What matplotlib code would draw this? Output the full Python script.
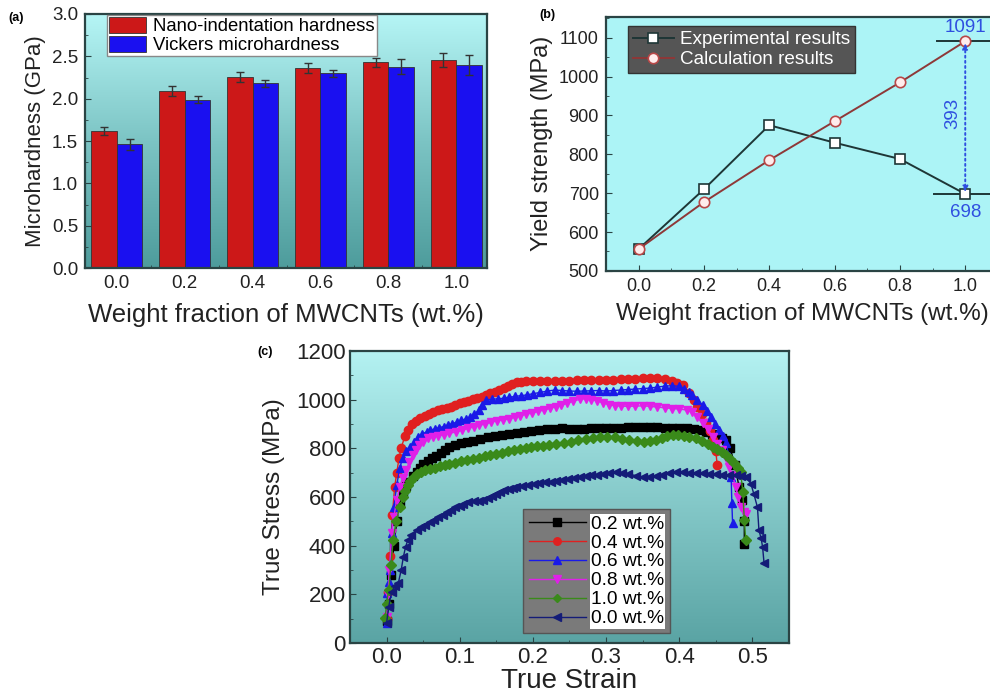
import matplotlib
matplotlib.use("Agg")
import matplotlib.pyplot as plt
import numpy as np
from matplotlib.colors import LinearSegmentedColormap
from matplotlib.ticker import MultipleLocator, FormatStrFormatter

plt.rcParams['font.family'] = ['Liberation Sans', 'DejaVu Sans']

# ---- (a) hardness ----
wt = [0.0, 0.2, 0.4, 0.6, 0.8, 1.0]
nano = [1.62, 2.09, 2.26, 2.36, 2.43, 2.46]
nano_err = [0.05, 0.06, 0.06, 0.06, 0.05, 0.08]
vick = [1.46, 1.99, 2.18, 2.30, 2.38, 2.40]
vick_err = [0.06, 0.04, 0.04, 0.04, 0.09, 0.12]

# ---- (b) yield strength ----
exp_ys = [556, 710, 875, 830, 788, 698]
calc_ys = [556, 677, 785, 885, 985, 1091]

# ---- (c) true stress-strain ----
s02 = [0.0, 0.003, 0.006, 0.010, 0.014, 0.018, 0.022, 0.026, 0.030, 0.036, 0.041, 0.046, 0.050, 0.056,
       0.062, 0.068, 0.074, 0.080, 0.086, 0.094, 0.102, 0.110, 0.118, 0.128, 0.138, 0.148, 0.158, 0.168,
       0.178, 0.188, 0.198, 0.209, 0.22, 0.23, 0.24, 0.25, 0.26, 0.27, 0.28, 0.29, 0.30, 0.31, 0.32,
       0.33, 0.34, 0.35, 0.36, 0.37, 0.38, 0.39, 0.40, 0.41, 0.42, 0.43, 0.437, 0.445, 0.452, 0.458,
       0.464, 0.470, 0.476, 0.482, 0.486, 0.489, 0.489]
t02 = [90, 160, 280, 400, 500, 570, 620, 645, 661, 685, 702, 718, 737, 750, 760, 770, 782, 795, 806,
       815, 822, 828, 832, 838, 845, 850, 855, 859, 863, 868, 872, 877, 880, 881, 882, 881, 880, 881,
       882, 883, 884, 885, 886, 887, 888, 888, 888, 887, 886, 885, 884, 882, 879, 874, 866, 860, 848,
       842, 834, 800, 730, 640, 586, 500, 408]

s04 = [0.0, 0.002, 0.005, 0.008, 0.011, 0.014, 0.017, 0.020, 0.025, 0.030, 0.035, 0.040, 0.046, 0.052,
       0.058, 0.064, 0.070, 0.076, 0.082, 0.088, 0.094, 0.100, 0.106, 0.112, 0.118, 0.124, 0.130, 0.136,
       0.142, 0.148, 0.154, 0.160, 0.166, 0.172, 0.178, 0.184, 0.19, 0.20, 0.21, 0.22, 0.23, 0.24, 0.25,
       0.26, 0.27, 0.28, 0.29, 0.30, 0.31, 0.32, 0.33, 0.34, 0.35, 0.36, 0.37, 0.38, 0.39, 0.397, 0.405,
       0.414, 0.420, 0.425, 0.431, 0.437, 0.442, 0.446, 0.450, 0.452]
t04 = [100, 210, 356, 525, 640, 700, 760, 802, 850, 876, 900, 914, 925, 935, 942, 950, 957, 962, 967,
       972, 978, 985, 990, 995, 1002, 1007, 1013, 1020, 1026, 1033, 1041, 1050, 1058, 1065, 1071,
       1075, 1077, 1078, 1079, 1079, 1078, 1078, 1079, 1080, 1080, 1081, 1081, 1082, 1083, 1084, 1085,
       1087, 1089, 1091, 1089, 1085, 1078, 1070, 1060, 1026, 1000, 971, 940, 903, 870, 834, 790, 731]

s06 = [0.0, 0.001, 0.003, 0.0045, 0.007, 0.010, 0.014, 0.018, 0.022, 0.027, 0.032, 0.037, 0.043, 0.049,
       0.055, 0.060, 0.066, 0.072, 0.078, 0.084, 0.090, 0.096, 0.102, 0.108, 0.114, 0.120, 0.126, 0.131,
       0.136, 0.144, 0.152, 0.160, 0.168, 0.176, 0.184, 0.192, 0.20, 0.21, 0.22, 0.23, 0.24, 0.25, 0.26,
       0.27, 0.28, 0.29, 0.30, 0.31, 0.32, 0.33, 0.34, 0.35, 0.36, 0.37, 0.38, 0.39, 0.40, 0.407, 0.413,
       0.418, 0.425, 0.432, 0.438, 0.443, 0.449, 0.455, 0.460, 0.464, 0.468, 0.471, 0.472, 0.473]
t06 = [82, 205, 250, 300, 451, 560, 650, 719, 760, 790, 807, 825, 848, 860, 868, 875, 880, 885, 890,
       896, 902, 908, 915, 921, 928, 940, 958, 980, 999, 1002, 1004, 1006, 1010, 1014, 1017, 1020,
       1025, 1030, 1036, 1040, 1038, 1036, 1035, 1036, 1037, 1038, 1036, 1038, 1040, 1042, 1044, 1046,
       1048, 1052, 1056, 1058, 1055, 1045, 1030, 1019, 1000, 978, 955, 930, 902, 875, 850, 821, 770,
       683, 574, 492]

s08 = [0.0, 0.002, 0.004, 0.007, 0.010, 0.014, 0.018, 0.022, 0.027, 0.031, 0.036, 0.040, 0.045, 0.050,
       0.057, 0.064, 0.071, 0.078, 0.086, 0.095, 0.103, 0.111, 0.119, 0.127, 0.135, 0.143, 0.151, 0.159,
       0.167, 0.175, 0.183, 0.191, 0.199, 0.207, 0.215, 0.223, 0.231, 0.239, 0.247, 0.255, 0.264, 0.272,
       0.280, 0.288, 0.296, 0.304, 0.312, 0.320, 0.330, 0.340, 0.350, 0.360, 0.370, 0.380, 0.390, 0.400,
       0.410, 0.418, 0.425, 0.432, 0.439, 0.446, 0.452, 0.459, 0.464, 0.468, 0.473, 0.477, 0.481, 0.484,
       0.488, 0.491]
t08 = [108, 200, 300, 451, 520, 588, 640, 680, 711, 745, 773, 795, 814, 828, 841, 848, 852, 857, 862,
       868, 875, 882, 889, 895, 901, 908, 914, 918, 922, 928, 935, 941, 946, 952, 958, 965, 971, 978,
       986, 994, 1002, 1004, 1001, 995, 988, 980, 976, 974, 973, 974, 975, 973, 970, 967, 964, 962, 958,
       948, 930, 903, 878, 848, 820, 793, 760, 725, 690, 642, 600, 560, 540, 531]

s10 = [-0.002, 0.0, 0.003, 0.006, 0.009, 0.013, 0.018, 0.022, 0.025, 0.029, 0.032, 0.037, 0.041, 0.047,
       0.053, 0.059, 0.066, 0.073, 0.080, 0.086, 0.094, 0.102, 0.110, 0.118, 0.126, 0.134, 0.142, 0.150,
       0.158, 0.166, 0.174, 0.182, 0.190, 0.198, 0.206, 0.214, 0.222, 0.232, 0.242, 0.252, 0.262, 0.272,
       0.282, 0.292, 0.302, 0.312, 0.322, 0.332, 0.342, 0.352, 0.360, 0.368, 0.376, 0.384, 0.392, 0.399,
       0.406, 0.414, 0.423, 0.431, 0.439, 0.446, 0.452, 0.458, 0.464, 0.470, 0.475, 0.480, 0.484, 0.487,
       0.489, 0.491]
t10 = [101, 160, 220, 320, 423, 500, 558, 600, 627, 650, 668, 683, 695, 704, 710, 715, 720, 726, 731,
       736, 742, 748, 753, 757, 762, 767, 772, 777, 782, 788, 793, 798, 802, 806, 809, 811, 813, 818,
       823, 828, 833, 838, 842, 845, 848, 845, 840, 836, 832, 828, 830, 835, 842, 850, 855, 856, 852,
       847, 841, 830, 820, 807, 796, 785, 773, 755, 739, 720, 704, 620, 506, 423]

s00 = [0.0, 0.003, 0.007, 0.012, 0.016, 0.020, 0.023, 0.026, 0.029, 0.034, 0.041, 0.047, 0.053, 0.059,
       0.065, 0.071, 0.077, 0.082, 0.088, 0.094, 0.100, 0.105, 0.112, 0.119, 0.126, 0.132, 0.138, 0.144,
       0.150, 0.155, 0.161, 0.167, 0.173, 0.177, 0.185, 0.193, 0.201, 0.209, 0.217, 0.225, 0.232, 0.240,
       0.248, 0.256, 0.264, 0.272, 0.280, 0.288, 0.296, 0.304, 0.314, 0.322, 0.330, 0.341, 0.350, 0.359,
       0.368, 0.377, 0.386, 0.396, 0.405, 0.414, 0.423, 0.432, 0.441, 0.450, 0.459, 0.468, 0.477, 0.484,
       0.491, 0.498, 0.502, 0.507, 0.509, 0.512, 0.514, 0.516]
t00 = [81, 150, 211, 235, 245, 300, 354, 395, 423, 445, 464, 475, 485, 497, 507, 518, 528, 538, 548,
       558, 565, 573, 578, 582, 584, 586, 595, 605, 613, 620, 628, 634, 638, 641, 645, 650, 655, 658,
       661, 664, 668, 672, 676, 680, 683, 686, 689, 692, 695, 697, 704, 700, 695, 688, 683, 684, 688,
       692, 697, 704, 702, 700, 698, 697, 695, 694, 692, 691, 689, 687, 683, 655, 613, 558, 463, 430,
       395, 328]

# ---- figure ----
fig = plt.figure(figsize=(9.9, 7.0), dpi=100)
fig.patch.set_facecolor('white')

spine_col = '#2a4444'
grad_a = LinearSegmentedColormap.from_list('ga', ['#4e9c9c', '#7cc4c4', '#b6f6f6'])
grad_c = LinearSegmentedColormap.from_list('gc', ['#5aa4a4', '#86caca', '#b4f2f2'])


def style_axes(ax, size=13, pad=5):
    for sp in ax.spines.values():
        sp.set_color(spine_col)
        sp.set_linewidth(1.6)
    ax.tick_params(which='both', direction='in', colors=spine_col, labelcolor='#222222',
                   labelsize=size, top=False, right=False)
    ax.tick_params(which='major', length=4, pad=pad)
    ax.tick_params(which='minor', length=2.5)


def gradient(ax, cmap):
    g = np.linspace(0, 1, 256).reshape(-1, 1)
    ax.imshow(g, cmap=cmap, origin='lower', aspect='auto', extent=[0, 1, 0, 1],
              transform=ax.transAxes, zorder=0)


# (a)
axa = fig.add_axes([0.0859, 0.617, 0.406, 0.363])
gradient(axa, grad_a)
x = np.array(wt)
bw = 0.076
axa.bar(x - bw / 2, nano, bw, color='#cc1818', edgecolor='#333333', linewidth=0.6,
        label='Nano-indentation hardness', zorder=2)
axa.bar(x + bw / 2, vick, bw, color='#1a10f0', edgecolor='#333333', linewidth=0.6,
        label='Vickers microhardness', zorder=2)
axa.errorbar(x - bw / 2, nano, yerr=nano_err, fmt='none', ecolor='#333333', elinewidth=1,
             capsize=3, zorder=3)
axa.errorbar(x + bw / 2, vick, yerr=vick_err, fmt='none', ecolor='#333333', elinewidth=1,
             capsize=3, zorder=3)
axa.set_xlim(-0.093, 1.09)
axa.set_ylim(0, 3.0)
axa.set_xticks(wt)
axa.set_xticklabels(['0.0', '0.2', '0.4', '0.6', '0.8', '1.0'])
axa.set_xticks([0.1, 0.3, 0.5, 0.7, 0.9], minor=True)
axa.yaxis.set_major_locator(MultipleLocator(0.5))
axa.yaxis.set_minor_locator(MultipleLocator(0.25))
axa.yaxis.set_major_formatter(FormatStrFormatter('%.1f'))
style_axes(axa, 13.5)
axa.set_xlabel('Weight fraction of MWCNTs (wt.%)', fontsize=18.5, color='#222222', labelpad=8)
axa.set_ylabel('Microhardness (GPa)', fontsize=16, color='#222222')
la = axa.legend(loc='upper left', bbox_to_anchor=(0.055, 0.997), fontsize=13.3,
                handlelength=2.0, handleheight=0.95, borderpad=0.1, labelspacing=0.05,
                handletextpad=0.4, borderaxespad=0, fancybox=False, framealpha=1)
la.get_frame().set_edgecolor('#888888')
fig.text(0.008, 0.975, '(a)', fontsize=9, fontweight='bold', va='center')

# (b)
axb = fig.add_axes([0.612, 0.613, 0.396, 0.363])
axb.set_facecolor('#acf4f6')
axb.plot(wt, exp_ys, '-s', color='#1e3636', lw=1.4, ms=7, mfc='white', mec='#1e3636',
         mew=1.2, label='Experimental results', zorder=3)
axb.plot(wt, calc_ys, '-o', color='#8e3838', lw=1.4, ms=7.5, mfc='#ffecec', mec='#b84848',
         mew=1.2, label='Calculation results', zorder=3)
axb.plot([0.915, 1.1], [calc_ys[-1], calc_ys[-1]], color='#1e3636', lw=1.4, zorder=2)
axb.plot([0.905, 1.1], [exp_ys[-1], exp_ys[-1]], color='#1e3636', lw=1.4, zorder=2)
axb.annotate('', xy=(1.0, exp_ys[-1] + 5), xytext=(1.0, calc_ys[-1] - 5),
             arrowprops=dict(arrowstyle='<|-|>', color='#2f4fe0', linestyle=':', lw=1.4,
                             mutation_scale=8, shrinkA=0, shrinkB=0), zorder=4)
axb.text(1.0, 1127, str(calc_ys[-1]), color='#2f4fe0', fontsize=13.5, ha='center', va='center')
axb.text(1.0, 651, str(exp_ys[-1]), color='#2f4fe0', fontsize=13.5, ha='center', va='center')
axb.text(0.963, 905, str(calc_ys[-1] - exp_ys[-1]), color='#2f4fe0', fontsize=13.5,
         rotation=90, ha='center', va='center')
axb.set_xlim(-0.1, 1.1)
axb.set_ylim(500, 1154)
axb.set_xticks(wt)
axb.set_xticklabels(['0.0', '0.2', '0.4', '0.6', '0.8', '1.0'])
axb.xaxis.set_minor_locator(MultipleLocator(0.1))
axb.yaxis.set_major_locator(MultipleLocator(100))
axb.yaxis.set_minor_locator(MultipleLocator(50))
style_axes(axb, 13)
axb.set_xlabel('Weight fraction of MWCNTs (wt.%)', fontsize=17.5, color='#222222', labelpad=6)
axb.set_ylabel('Yield strength (MPa)', fontsize=17, color='#222222')
lb = axb.legend(loc='upper left', bbox_to_anchor=(0.056, 0.962), fontsize=13.6,
                handlelength=2.2, borderpad=0.25, labelspacing=0.15, handletextpad=0.3,
                borderaxespad=0, fancybox=False, framealpha=1, facecolor='#555555',
                edgecolor='#333333')
for t in lb.get_texts():
    t.set_color('white')
fig.text(0.545, 0.978, '(b)', fontsize=9, fontweight='bold', va='center')

# (c)
axc = fig.add_axes([0.3535, 0.0814, 0.4434, 0.417])
gradient(axc, grad_c)
series = [
    (s02, t02, '0.2 wt.%', 'black', 's'),
    (s04, t04, '0.4 wt.%', '#e02020', 'o'),
    (s06, t06, '0.6 wt.%', '#1a1ae8', '^'),
    (s08, t08, '0.8 wt.%', '#e020e8', 'v'),
    (s10, t10, '1.0 wt.%', '#3a8a1a', 'D'),
    (s00, t00, '0.0 wt.%', '#141c78', '<'),
]
for sx, sy, lab, col, mk in series:
    ms = 5 if mk == 'D' else 6
    axc.plot(sx, sy, '-', marker=mk, color=col, lw=1.0, ms=ms, mec=col, label=lab, zorder=3)
axc.set_xlim(-0.05, 0.55)
axc.set_ylim(0, 1200)
axc.xaxis.set_major_locator(MultipleLocator(0.1))
axc.xaxis.set_minor_locator(MultipleLocator(0.05))
axc.yaxis.set_major_locator(MultipleLocator(200))
axc.yaxis.set_minor_locator(MultipleLocator(100))
axc.xaxis.set_major_formatter(FormatStrFormatter('%.1f'))
style_axes(axc, 16, pad=3)
axc.set_xlabel('True Strain', fontsize=20, color='#222222', labelpad=0)
axc.set_ylabel('True Stress (MPa)', fontsize=17.5, color='#222222', labelpad=8)
lc = axc.legend(loc='lower left', bbox_to_anchor=(0.394, 0.034), fontsize=13.8,
                handlelength=3.0, borderpad=0.3, labelspacing=0.08, handletextpad=0.25,
                borderaxespad=0, fancybox=False, framealpha=1, facecolor='#7a7a7a',
                edgecolor='#555555', markerscale=0.9)
for t in lc.get_texts():
    t.set_bbox(dict(facecolor='white', edgecolor='none', pad=1.0))
fig.text(0.26, 0.497, '(c)', fontsize=9, fontweight='bold', va='center')

fig.savefig('out.png', dpi=100, facecolor='white')
